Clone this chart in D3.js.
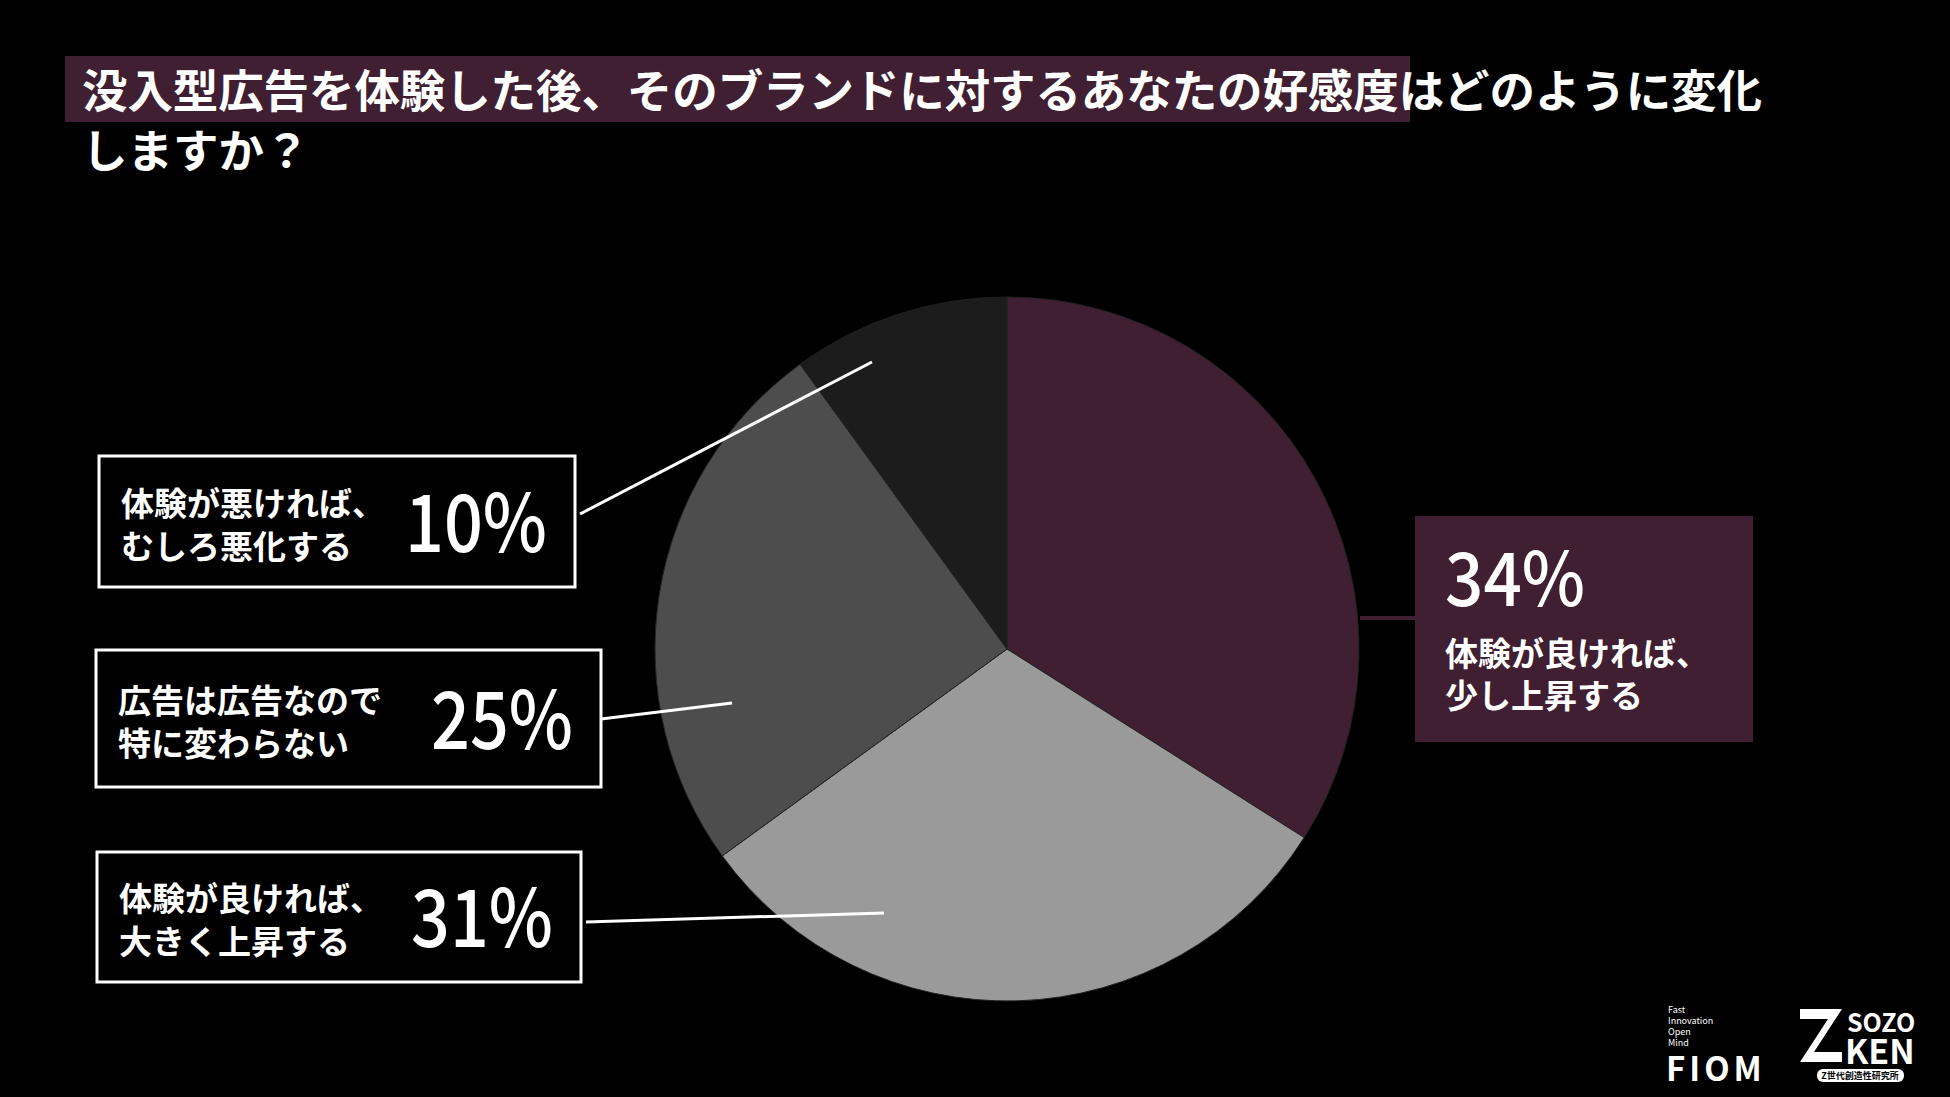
<!DOCTYPE html>
<html><head><meta charset="utf-8">
<script src="https://cdn.jsdelivr.net/npm/d3@7"></script>
<style>body{margin:0;background:#000}svg{display:block}text{font-family:"Noto Sans CJK JP","Noto Sans",sans-serif;fill:#fff}</style>
</head><body><svg width="1950" height="1097"></svg>
<script>
// slices clockwise from 12 o'clock
const labels = [['体験が良ければ、', '少し上昇する'], ['体験が良ければ、', '大きく上昇する'], ['広告は広告なので', '特に変わらない'], ['体験が悪ければ、', 'むしろ悪化する']];
const values = [34, 31, 25, 10];
const colors = ['#3f1f31', '#9a9a9a', '#4d4d4d', '#1c1c1c'];

const svg = d3.select('svg');
const cx = 1007, cy = 649, r = 352;

// Title
svg.append('rect').attr('x', 65).attr('y', 56).attr('width', 1345).attr('height', 66).attr('fill', '#3f1f31');
svg.append('text').attr('x', 82).attr('y', 108).attr('font-size', 45.5).attr('font-weight', 700)
    .attr('textLength', 1680).text('没入型広告を体験した後、そのブランドに対するあなたの好感度はどのように変化');
svg.append('text').attr('x', 82).attr('y', 168).attr('font-size', 45.5).attr('font-weight', 700)
    .text('しますか？');

const pie = d3.pie().sort(null).value(d => d);
const arc = d3.arc().innerRadius(0).outerRadius(r);
const g = svg.append('g').attr('transform', `translate(${cx},${cy})`);
g.selectAll('path').data(pie(values)).enter().append('path')
    .attr('d', arc).attr('fill', (d, i) => colors[i]).attr('stroke', '#222').attr('stroke-width', 1);

// Label boxes: [x, y, w, h], leader line
const boxes = [
    {box: [1415, 516, 338, 226], line: [[1360, 618], [1415, 618]]},
    {box: [97, 852, 484, 130], line: [[586, 922], [884, 913]]},
    {box: [96, 650, 505, 137], line: [[601, 719], [732, 703]]},
    {box: [99, 456, 476, 131], line: [[580, 514], [872, 362]]}
];

boxes.forEach((b, i) => {
    const [x, y, w, h] = b.box;
    svg.append('line').attr('x1', b.line[0][0]).attr('y1', b.line[0][1])
        .attr('x2', b.line[1][0]).attr('y2', b.line[1][1])
        .attr('stroke', i == 0 ? colors[0] : '#fff').attr('stroke-width', i == 0 ? 4 : 3);
    if (i == 0)
    {
        svg.append('rect').attr('x', x).attr('y', y).attr('width', w).attr('height', h).attr('fill', colors[0]);
        svg.append('text').attr('x', x + 30).attr('y', y + 90).attr('font-size', 74).attr('font-weight', 500)
            .attr('textLength', 140).attr('lengthAdjust', 'spacingAndGlyphs').text(values[i] + '%');
        labels[i].forEach((t, j) => svg.append('text').attr('x', x + 30).attr('y', y + 150 + j * 42)
            .attr('font-size', 33).attr('font-weight', 700).text(t));
    }
    else
    {
        svg.append('rect').attr('x', x).attr('y', y).attr('width', w).attr('height', h)
            .attr('fill', 'none').attr('stroke', '#fff').attr('stroke-width', 3);
        labels[i].forEach((t, j) => svg.append('text').attr('x', x + 22).attr('y', y + h / 2 - 6 + j * 43)
            .attr('font-size', 33).attr('font-weight', 700).text(t));
        svg.append('text').attr('x', x + w - 28).attr('y', y + h / 2 + 30).attr('text-anchor', 'end')
            .attr('font-size', 80).attr('font-weight', 500)
            .attr('textLength', 142).attr('lengthAdjust', 'spacingAndGlyphs').text(values[i] + '%');
    }
});

// Logos
['Fast', 'Innovation', 'Open', 'Mind'].forEach((t, i) => svg.append('text').attr('x', 1668).attr('y', 1013 + i * 11)
    .attr('font-size', 9).attr('font-family', 'Noto Sans').text(t));
svg.append('text').attr('x', 1666).attr('y', 1081).attr('font-size', 33).attr('font-weight', 700)
    .attr('font-family', 'Noto Sans').attr('letter-spacing', 4).text('FIOM');
svg.append('path').attr('d', 'M1800,1009 L1842,1009 L1814,1052 L1842,1052 L1842,1062 L1800,1062 L1828,1019 L1800,1019 Z').attr('fill', '#fff');
svg.append('text').attr('x', 1847).attr('y', 1032).attr('font-size', 25).attr('font-weight', 700)
    .attr('font-family', 'Noto Sans').text('SOZO');
svg.append('text').attr('x', 1845).attr('y', 1064).attr('font-size', 34).attr('font-weight', 700)
    .attr('font-family', 'Noto Sans').text('KEN');
svg.append('rect').attr('x', 1817).attr('y', 1069).attr('width', 87).attr('height', 13).attr('rx', 6).attr('fill', '#fff');
svg.append('text').attr('x', 1860).attr('y', 1079).attr('text-anchor', 'middle').attr('font-size', 9)
    .attr('font-weight', 700).style('fill', '#000').text('Z世代創造性研究所');
</script></body></html>
